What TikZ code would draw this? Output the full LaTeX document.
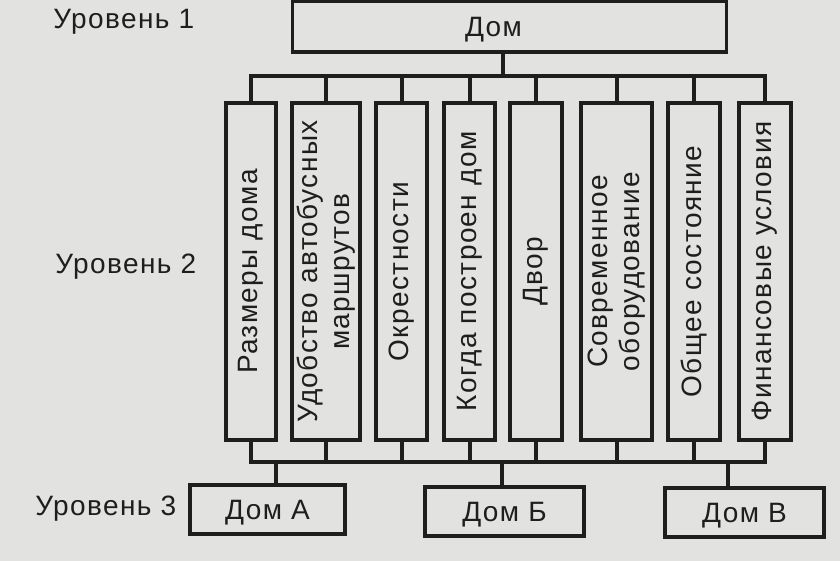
\documentclass[tikz,border=0pt]{standalone}
\usepackage{fontspec}
\setmainfont[LetterSpace=5]{Liberation Sans}
\definecolor{paper}{RGB}{226,226,225}
\definecolor{ink}{RGB}{30,30,30}

\begin{document}
\begin{tikzpicture}[x=0.75pt, y=-0.75pt,
  box/.style={draw=ink, line width=2.4pt, rectangle, inner sep=0pt, text=ink, font=\fontsize{21}{24}\selectfont},
  hbox/.style={box, text depth=0pt},
  fac/.style={box, rotate=90, minimum width=252.75pt, align=center},
  lvl/.style={anchor=base west, inner sep=0pt, text=ink, font=\fontsize{21}{24}\selectfont},
  bus/.style={draw=ink, line width=3pt, line cap=rect}
]
\fill[paper] (0,0) rectangle (840,561);
\useasboundingbox (0,0) rectangle (840,561);

% Уровни
\node[lvl] (l1) at (53,28) {Уровень 1};
\node[lvl] (l2) at (55,273) {Уровень 2};
\node[lvl] (l3) at (35,515) {Уровень 3};

% Уровень 1
\node[hbox, minimum width=326pt, minimum height=37.9pt] (dom) at (509.5,26.75) {\hspace*{-24pt}Дом};

% Уровень 2
\node[fac, minimum height=37.5pt] (f1) at (251,271.5) {Размеры дома};
\node[fac, minimum height=51pt] (f2) at (326,271.5) {Удобство автобусных\\маршрутов};
\node[fac, minimum height=38.25pt] (f3) at (401.5,271.5) {Окрестности};
\node[fac, minimum height=38.25pt] (f4) at (469.5,271.5) {Когда построен дом};
\node[fac, minimum height=39pt] (f5) at (536,271.5) {Двор};
\node[fac, minimum height=53.25pt] (f6) at (616.5,271.5) {Современное\\оборудование};
\node[fac, minimum height=39pt] (f7) at (694,271.5) {Общее состояние};
\node[fac, minimum height=39pt] (f8) at (765,271.5) {Финансовые условия};

% Уровень 3
\node[hbox, minimum width=116.25pt, minimum height=36.75pt] (hA) at (267.5,509.5) {Дом А};
\node[hbox, minimum width=119.25pt, minimum height=36.75pt] (hB) at (504.5,511.5) {Дом Б};
\node[hbox, minimum width=119.25pt, minimum height=36.75pt] (hV) at (744.5,512.5) {Дом В};

% шины
\coordinate (tbus) at (503,76);
\coordinate (lbus) at (503,462);
\draw[bus] (dom.south -| tbus) -- (tbus);
\draw[bus] (f1.east |- tbus) -- (f8.east |- tbus);
\draw[bus] (f1.west |- lbus) -- (f8.west |- lbus);
\foreach \i in {1,...,8} {
  \draw[bus] (f\i.east) -- (f\i.east |- tbus);
  \draw[bus] (f\i.west) -- (f\i.west |- lbus);
}
\draw[bus] ([xshift=6.4pt]hA.north) -- ([xshift=6.4pt]hA.north |- lbus);
\draw[bus] ([xshift=-1.9pt]hB.north) -- ([xshift=-1.9pt]hB.north |- lbus);
\draw[bus] ([xshift=-12.4pt]hV.north) -- ([xshift=-12.4pt]hV.north |- lbus);
\end{tikzpicture}
\end{document}
